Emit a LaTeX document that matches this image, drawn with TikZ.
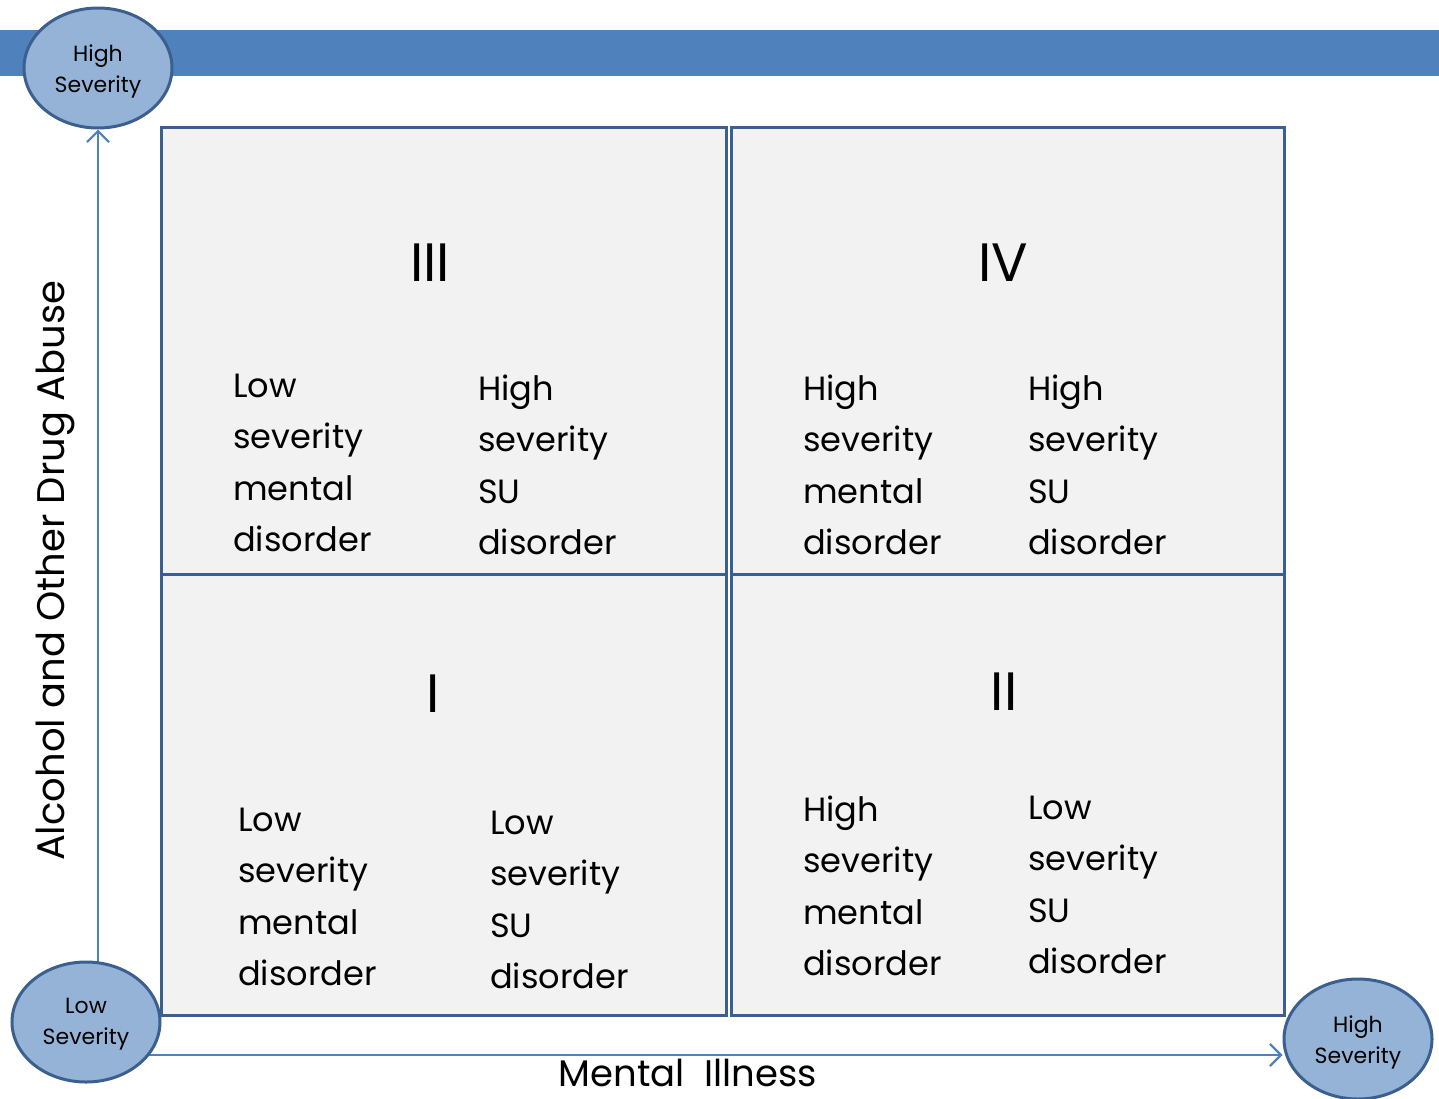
\documentclass[tikz,border=0pt]{standalone}
\usepackage{fontspec}
\setmainfont{Poppins}
\usetikzlibrary{shapes.geometric,arrows.meta,backgrounds}
\definecolor{band}{HTML}{4F81BD}
\definecolor{edge}{HTML}{3B5F8F}
\definecolor{cellfill}{HTML}{F2F2F2}
\definecolor{bubble}{HTML}{95B3D7}
\tikzset{
  cell/.style={draw=edge, line width=3pt, fill=cellfill, rectangle, inner sep=0pt},
  bubblenode/.style={ellipse, draw=edge, line width=3pt, fill=bubble, inner sep=0pt,
    minimum width=148pt, minimum height=120pt},
  bubbletext/.style={align=center, inner sep=0pt, font=\fontsize{22}{31}\selectfont},
  axisline/.style={draw=band, line width=2.2pt, -{Straight Barb[length=11pt,width=22pt,line width=2.2pt]}},
  numeral/.style={font=\fontsize{54}{60}\selectfont, inner sep=0pt},
  qtext/.style={font=\fontsize{33.6}{51.5}\selectfont, align=left, anchor=west, inner sep=0pt},
  axislabel/.style={font=\fontsize{38.5}{44}\selectfont, inner sep=0pt}
}
\begin{document}
\begin{tikzpicture}[x=1pt,y=-1pt]
\useasboundingbox (0,0) rectangle (1439,1098);
% title band
\fill[band] (0,30) rectangle (1439,76);

% the four quadrants
\node[cell, minimum width=565pt, minimum height=447pt] (q3) at (443.5,350.5) {};
\node[cell, minimum width=553pt, minimum height=447pt] (q4) at (1007.5,350.5) {};
\node[cell, minimum width=565pt, minimum height=441pt] (q1) at (443.5,794.5) {};
\node[cell, minimum width=553pt, minimum height=441pt] (q2) at (1007.5,794.5) {};

% quadrant numerals
\node[numeral] (n3) at (430,263) {III};
\node[numeral] (n4) at (1003,263) {IV};
\node[numeral] (n1) at (433,694) {I};
\node[numeral] (n2) at (1004,692) {II};

% quadrant descriptions
\node[qtext] (t3a) at (233,463) {Low\\severity\\mental\\disorder};
\node[qtext] (t3b) at (478,465) {High\\severity\\SU\\disorder};
\node[qtext] (t4a) at (803,465) {High\\severity\\mental\\disorder};
\node[qtext] (t4b) at (1028,465) {High\\severity\\SU\\disorder};
\node[qtext] (t1a) at (238,897) {Low\\severity\\mental\\disorder};
\node[qtext] (t1b) at (490,900) {Low\\severity\\SU\\disorder};
\node[qtext] (t2a) at (803,886) {High\\severity\\mental\\disorder};
\node[qtext] (t2b) at (1028,885) {Low\\severity\\SU\\disorder};

% severity bubbles
\node[bubblenode] (hightop) at (98,68) {};
\node[bubblenode] (low) at (86,1022) {};
\node[bubblenode] (highright) at (1358,1039) {};
\node[bubbletext] (hightopt) at ([yshift=-3pt]hightop.center) {High\\Severity};
\node[bubbletext] (lowt) at ([yshift=-2pt]low.center) {Low\\Severity};
\node[bubbletext] (highrightt) at ([yshift=-3pt]highright.center) {High\\Severity};

% axes, drawn behind the bubbles
\coordinate (hy) at (0,1055);
\begin{scope}[on background layer]
\draw[axisline] (low.center -| hightop.south) -- (hightop.south);
\draw[axisline] (low.center |- hy) -- (highright.west |- hy);
\end{scope}

% axis titles
\node[axislabel, rotate=90] (ylab) at (55,571) {Alcohol and Other Drug Abuse};
\node[axislabel, font=\fontsize{37}{44}\selectfont] (xlab) at (688,1073) {Mental\ \ Illness};
\end{tikzpicture}
\end{document}
